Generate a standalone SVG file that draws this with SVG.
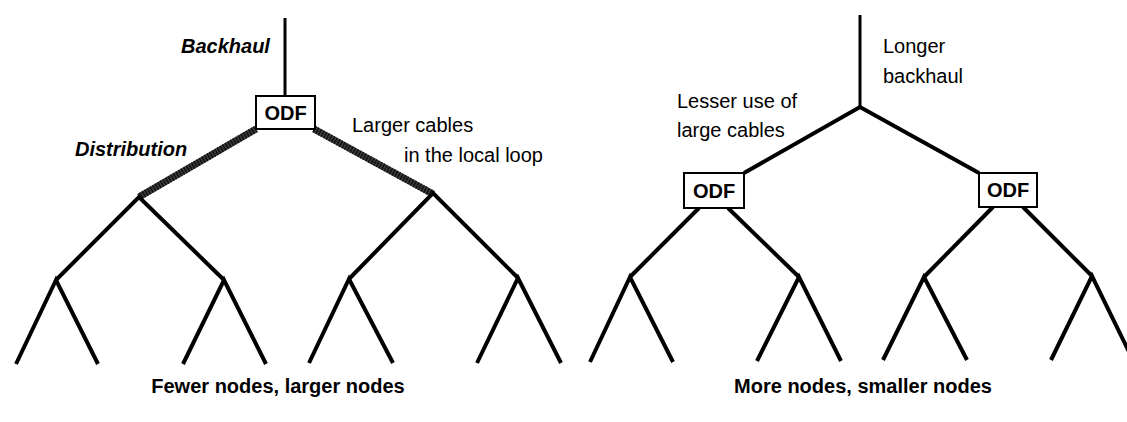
<svg xmlns="http://www.w3.org/2000/svg" width="1127" height="422" viewBox="0 0 1127 422">
<style>
  text { font-family: "Liberation Sans", Arial, sans-serif; fill: #000; }
  .lbl { font-size: 20px; }
  .it { font-size: 20px; font-weight: bold; font-style: italic; }
  .cap { font-size: 20px; font-weight: bold; text-anchor: middle; }
  .odf rect { fill: #fff; stroke: #000; stroke-width: 2; }
  .odf text { font-size: 20px; font-weight: bold; text-anchor: middle; }
  .ln { stroke: #000; stroke-width: 4; fill: none; stroke-linecap: butt; }
  .bh { stroke: #000; stroke-width: 3; fill: none; }
  .thick { stroke: #3c3c3c; stroke-width: 7; fill: none; }
  .thickdots { stroke: #111; stroke-width: 7; fill: none; stroke-dasharray: 1.5 1.5; }
</style>
<rect width="1127" height="422" fill="#fff"/>
<g id="connectors">
  <!-- left tree -->
  <line class="bh" x1="285" y1="18" x2="285" y2="96"/>
  <line class="thick" x1="256" y1="129" x2="139" y2="197"/>
  <line class="thickdots" x1="256" y1="129" x2="139" y2="197"/>
  <line class="thick" x1="314" y1="129" x2="433" y2="194"/>
  <line class="thickdots" x1="314" y1="129" x2="433" y2="194"/>
  <polyline class="ln" points="56,280 139,197 224,280"/>
  <polyline class="ln" points="349,279 433,193 518,278"/>
  <polyline class="ln" points="16,364 56,280 98,364"/>
  <polyline class="ln" points="183,364 224,280 266,364"/>
  <polyline class="ln" points="309,363 349,279 393,363"/>
  <polyline class="ln" points="477,363 518,278 561,363"/>
  <!-- right tree -->
  <line class="bh" x1="860" y1="15" x2="860" y2="107"/>
  <polyline class="ln" points="744,173 860,107 979,173"/>
  <line class="ln" x1="699" y1="208" x2="630" y2="277"/>
  <line class="ln" x1="728" y1="208" x2="799" y2="277"/>
  <line class="ln" x1="993" y1="207" x2="924" y2="277"/>
  <line class="ln" x1="1023" y1="207" x2="1092" y2="276"/>
  <polyline class="ln" points="590,362 630,277 673,362"/>
  <polyline class="ln" points="757,361 799,277 841,361"/>
  <polyline class="ln" points="883,360 924,277 967,360"/>
  <polyline class="ln" points="1051,360 1092,276 1133,360"/>
</g>
<g id="odf-left" class="odf">
  <rect x="256" y="96" width="59" height="33"/>
  <text x="285.5" y="120">ODF</text>
</g>
<g id="odf-right-1" class="odf">
  <rect x="684" y="173" width="60" height="35"/>
  <text x="714" y="198">ODF</text>
</g>
<g id="odf-right-2" class="odf">
  <rect x="979" y="173" width="58" height="34"/>
  <text x="1008" y="197">ODF</text>
</g>
<g id="labels">
  <text class="it" x="181" y="53">Backhaul</text>
  <text class="it" x="75" y="156">Distribution</text>
  <text class="lbl" x="352" y="132">Larger cables</text>
  <text class="lbl" x="404" y="162">in the local loop</text>
  <text class="lbl" x="883" y="53">Longer</text>
  <text class="lbl" x="883" y="83">backhaul</text>
  <text class="lbl" x="677" y="108">Lesser use of</text>
  <text class="lbl" x="677" y="137">large cables</text>
  <text class="cap" x="278" y="393">Fewer nodes, larger nodes</text>
  <text class="cap" x="863" y="393">More nodes, smaller nodes</text>
</g>
</svg>
